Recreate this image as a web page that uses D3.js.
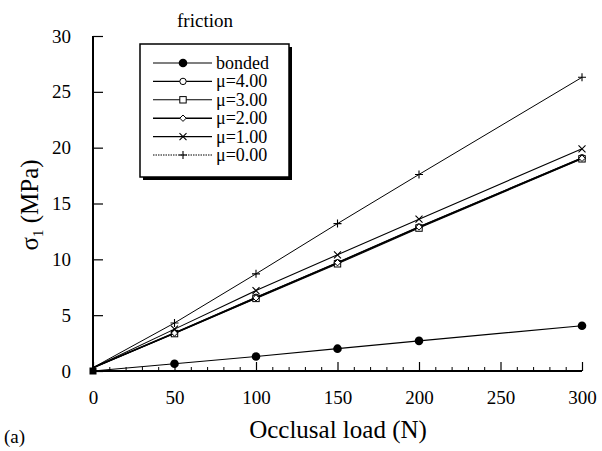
<!DOCTYPE html>
<html>
<head>
<meta charset="utf-8">
<script src="https://cdn.jsdelivr.net/npm/d3@7"></script>
<style>
  body { margin: 0; background: #fff; }
  svg text { font-family: "Liberation Serif", "Times New Roman", Times, "DejaVu Serif", serif !important; fill: #000; }
</style>
</head>
<body>
<div id="chart"></div>
<script>
// Occlusal load vs maximum principal stress, for several friction coefficients.
const loads = [0, 50, 100, 150, 200, 300];
const seriesNames = ["bonded", "μ=4.00", "μ=3.00", "μ=2.00", "μ=1.00", "μ=0.00"];
const bonded = [0, 0.65, 1.3, 2.0, 2.7, 4.05];
const mu4 = [0.3, 3.4, 6.6, 9.7, 12.9, 19.1];
const mu3 = [0.3, 3.35, 6.5, 9.6, 12.8, 19.0];
const mu2 = [0.3, 3.4, 6.55, 9.7, 12.9, 19.05];
const mu1 = [0.3, 3.75, 7.2, 10.4, 13.6, 19.9];
const mu0 = [0.3, 4.3, 8.7, 13.2, 17.6, 26.3];
const xTicks = [0, 50, 100, 150, 200, 250, 300];
const yTicks = [0, 5, 10, 15, 20, 25, 30];

const width = 602, height = 451;

const x = d3.scaleLinear([0, 300], [93, 582]);
const y = d3.scaleLinear([0, 30], [371, 36]);

const svg = d3.select("#chart").append("svg")
  .attr("width", width).attr("height", height);

// axes: ticks point inward
const xAxis = svg.append("g").attr("transform", `translate(0,${y(0)})`)
  .call(d3.axisBottom(x).tickValues(xTicks).tickSize(-9).tickPadding(20).tickFormat(d3.format("d")));
svg.append("g").attr("transform", `translate(0,${y(0)})`)
  .call(d3.axisBottom(x).tickValues(d3.range(10, 300, 10).filter((d) => d % 50 !== 0)).tickSize(-4).tickFormat(""))
  .call((g) => g.select(".domain").remove());
const yAxis = svg.append("g").attr("transform", `translate(${x(0)},0)`)
  .call(d3.axisLeft(y).tickValues(yTicks).tickSize(-10).tickPadding(22).tickFormat(d3.format("d")));

[xAxis, yAxis].forEach((g) => {
  g.attr("font-family", null);
  g.select(".domain").attr("stroke-width", 2);
  g.selectAll(".tick line").attr("stroke-width", 1.2);
  g.selectAll(".tick text").attr("font-size", 19);
});
xAxis.select(".domain").attr("d", `M${x(0)},0H${x(300)}`);
yAxis.select(".domain").attr("d", `M0,${y(0)}V${y(30)}`);

// axis titles
svg.append("text").attr("x", 338).attr("y", 438).attr("text-anchor", "middle")
  .attr("font-size", 25).text("Occlusal load (N)");
const yt = svg.append("text").attr("transform", "translate(38,205) rotate(-90)")
  .attr("text-anchor", "middle").attr("font-size", 25);
yt.append("tspan").text("σ");
yt.append("tspan").attr("font-size", 15).attr("dy", 5).text("1");
yt.append("tspan").attr("dy", -5).text(" (MPa)");
svg.append("text").attr("x", 4).attr("y", 443).attr("font-size", 19).text("(a)");

// markers
const markers = {
  "bonded": (g) => g.append("circle").attr("r", 4.3).attr("fill", "#000"),
  "μ=4.00": (g) => g.append("circle").attr("r", 3.2).attr("fill", "#fff").attr("stroke", "#000"),
  "μ=3.00": (g) => g.append("rect").attr("x", -3.2).attr("y", -3.2).attr("width", 6.4).attr("height", 6.4).attr("fill", "#fff").attr("stroke", "#000"),
  "μ=2.00": (g) => g.append("path").attr("d", "M0,-3.2L3.2,0L0,3.2L-3.2,0Z").attr("fill", "#fff").attr("stroke", "#000"),
  "μ=1.00": (g) => g.append("path").attr("d", "M-3.5,-3.5L3.5,3.5M-3.5,3.5L3.5,-3.5").attr("stroke", "#000").attr("stroke-width", 1.1),
  "μ=0.00": (g) => g.append("path").attr("d", "M-4,0H4M0,-4V4").attr("stroke", "#000").attr("stroke-width", 1.1),
};
const seriesVals = [bonded, mu4, mu3, mu2, mu1, mu0];
const lineW = [1.2, 1.1, 1.1, 1.6, 1.1, 1.0];

const line = d3.line().x((d) => x(d.load)).y((d) => y(d.v));
seriesNames.forEach((name, i) => {
  const pts = loads.map((l, j) => ({ load: l, v: seriesVals[i][j] }));
  svg.append("path").datum(pts).attr("d", line).attr("fill", "none")
    .attr("stroke", "#000").attr("stroke-width", lineW[i]);
  pts.slice(1).forEach((p) => {
    markers[name](svg.append("g").attr("transform", `translate(${x(p.load)},${y(p.v)})`));
  });
});
// filled origin marker
svg.append("rect").attr("x", x(0) - 3.5).attr("y", y(0) - 3.5).attr("width", 7).attr("height", 7).attr("fill", "#000");

// legend
const lg = svg.append("g");
lg.append("rect").attr("x", 143).attr("y", 47).attr("width", 149).attr("height", 133).attr("fill", "#000");
lg.append("rect").attr("x", 140).attr("y", 44).attr("width", 149).attr("height", 133)
  .attr("fill", "#fff").attr("stroke", "#000").attr("stroke-width", 1.5);
svg.append("text").attr("x", 205).attr("y", 27).attr("text-anchor", "middle").attr("font-size", 19).text("friction");
seriesNames.forEach((name, i) => {
  const ry = 63 + i * 18.4;
  lg.append("line").attr("x1", 153).attr("x2", 212).attr("y1", ry).attr("y2", ry)
    .attr("stroke", "#000").attr("stroke-width", lineW[i])
    .attr("stroke-dasharray", name === "μ=0.00" ? "1.5,1" : null);
  markers[name](lg.append("g").attr("transform", `translate(183,${ry})`));
  lg.append("text").attr("x", 216).attr("y", ry + 6).attr("font-size", 18).text(name);
});
</script>
</body>
</html>
